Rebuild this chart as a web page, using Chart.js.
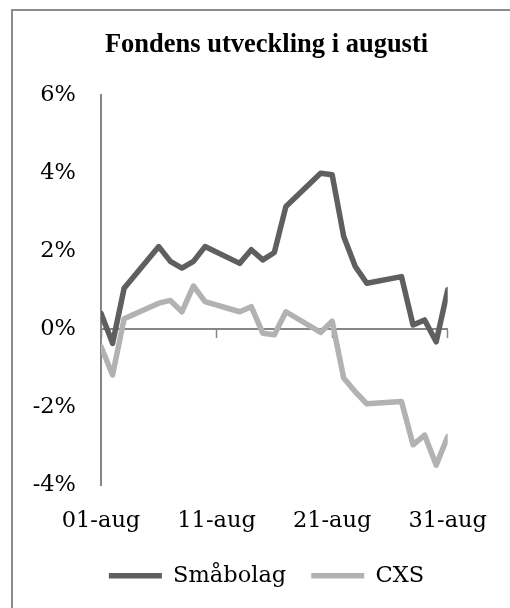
<!DOCTYPE html>
<html>
<head>
<meta charset="utf-8">
<title>Fondens utveckling i augusti</title>
<script src="https://cdn.jsdelivr.net/npm/chart.js@4.4.0/dist/chart.umd.min.js"></script>
<style>
    html, body { margin: 0; padding: 0; background: #fff; }
    #wrap { width: 510px; height: 608px; }
</style>
</head>
<body>
<div id="wrap"><canvas id="chart"></canvas></div>
<script>
(function () {

    "use strict";

    // Handelsdagar i augusti (helgerna saknas, linjen dras rakt över dem)
    var days = [1, 2, 3, 6, 7, 8, 9, 10, 13, 14, 15, 16, 17, 20, 21, 22, 23, 24, 27, 28, 29, 30, 31];
    var smabolag = [0.40, -0.37, 1.04, 2.11, 1.73, 1.56, 1.73, 2.11, 1.68, 2.03, 1.77, 1.96, 3.14,
                    3.99, 3.95, 2.37, 1.60, 1.17, 1.34, 0.10, 0.23, -0.33, 1.00];
    var cxs = [-0.45, -1.18, 0.26, 0.66, 0.73, 0.44, 1.10, 0.70, 0.44, 0.57, -0.11, -0.15, 0.44,
               -0.09, 0.20, -1.26, -1.61, -1.92, -1.86, -2.97, -2.72, -3.49, -2.76];
    var dayTicks = [1, 11, 21, 31];
    var tickLabels = ['01-aug', '11-aug', '21-aug', '31-aug'];

    var axisColor = '#868686';

    function points(values) {
        return days.map(function (d, i) { return { x: d, y: values[i] }; });
    }

    function setDayTicks(scale) {
        scale.ticks = dayTicks.map(function (v) { return { value: v }; });
    }

    // Ram runt hela diagrammet
    var framePlugin = {
        id: 'frame',
        beforeDraw: function (chart) {
            var ctx = chart.ctx;
            ctx.save();
            ctx.strokeStyle = '#8c8c8c';
            ctx.lineWidth = 2;
            ctx.strokeRect(12, 10, 700, 800);
            ctx.restore();
        }
    };

    Chart.defaults.font.family = '"DejaVu Serif", serif';
    Chart.defaults.font.size = 22.5;
    Chart.defaults.color = '#000';

    new Chart(document.getElementById('chart'), {
        type: 'line',
        data: {
            datasets: [{
                label: 'Småbolag',
                data: points(smabolag),
                borderColor: '#5f5f5f',
                backgroundColor: '#5f5f5f',
                borderWidth: 5.5,
                borderCapStyle: 'round',
                borderJoinStyle: 'round',
                pointRadius: 0,
                tension: 0
            }, {
                label: 'CXS',
                data: points(cxs),
                borderColor: '#b2b2b2',
                backgroundColor: '#b2b2b2',
                borderWidth: 5.5,
                borderCapStyle: 'round',
                borderJoinStyle: 'round',
                pointRadius: 0,
                tension: 0
            }]
        },
        options: {
            responsive: true,
            maintainAspectRatio: false,
            animation: false,
            layout: { padding: { left: 23, right: 0, top: 0, bottom: 11 } },
            plugins: {
                title: {
                    display: true,
                    text: 'Fondens utveckling i augusti',
                    color: '#000',
                    font: { family: '"Liberation Serif", serif', weight: 'bold', size: 26.5, lineHeight: 1.2 },
                    padding: { top: 29, bottom: 34 }
                },
                legend: {
                    position: 'bottom',
                    labels: {
                        usePointStyle: true,
                        pointStyle: 'line',
                        pointStyleWidth: 53,
                        padding: 25,
                        color: '#000'
                    }
                },
                tooltip: { enabled: false }
            },
            scales: {
                x: {
                    type: 'linear',
                    min: 1,
                    max: 31,
                    afterBuildTicks: setDayTicks,
                    afterFit: function (scale) { scale.height = 54.5; },
                    grid: { display: false, drawTicks: false },
                    border: { display: false },
                    ticks: {
                        autoSkip: false,
                        maxRotation: 0,
                        padding: 23,
                        callback: function (v, i) { return tickLabels[i]; }
                    }
                },
                x2: {
                    type: 'linear',
                    axis: 'x',
                    position: { y: 0 },
                    min: 1,
                    max: 31,
                    afterBuildTicks: setDayTicks,
                    grid: { drawOnChartArea: false, drawTicks: true, tickLength: 8, color: axisColor, tickWidth: 1.5 },
                    border: { display: true, color: axisColor, width: 2 },
                    ticks: { display: false }
                },
                y: {
                    min: -4,
                    max: 6,
                    afterFit: function (scale) { scale.width = 78; },
                    grid: { display: false, drawTicks: false },
                    border: { display: true, color: axisColor, width: 2 },
                    ticks: {
                        stepSize: 2,
                        padding: 25,
                        callback: function (v) { return v + '%'; }
                    }
                },
                // tom axel till höger som bara ger plats åt ritytan
                yRight: {
                    type: 'linear',
                    position: 'right',
                    min: -4,
                    max: 6,
                    afterFit: function (scale) { scale.width = 59; },
                    grid: { display: false, drawTicks: false },
                    border: { display: false },
                    ticks: { display: false }
                }
            }
        },
        plugins: [framePlugin]
    });

})();
</script>
</body>
</html>
